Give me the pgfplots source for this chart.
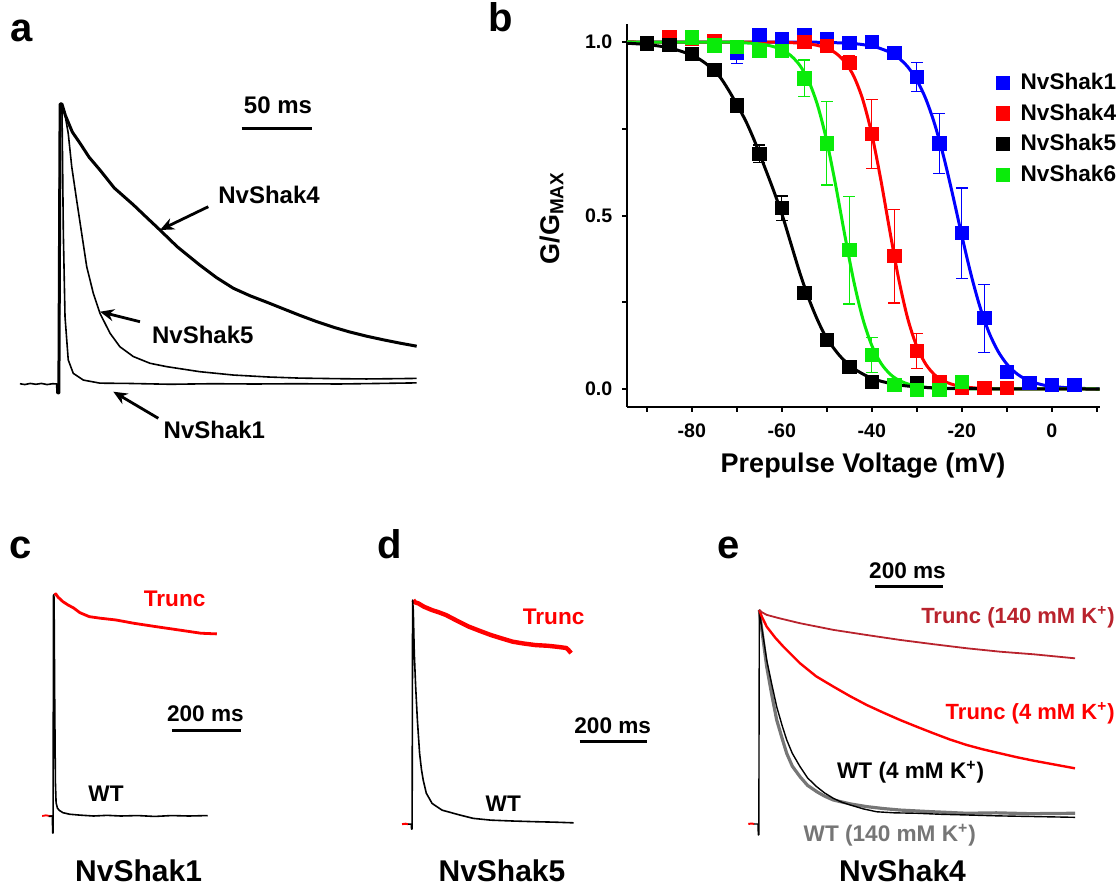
\documentclass[border=0pt]{standalone}
\usepackage{fontspec}
\setmainfont{Liberation Sans}
\usepackage{pgfplots}
\pgfplotsset{compat=1.18}
\usetikzlibrary{arrows.meta}
\definecolor{kblue}{RGB}{0,0,255}
\definecolor{kred}{RGB}{255,0,0}
\definecolor{kgreen}{RGB}{10,235,10}
\definecolor{kdark}{RGB}{185,35,45}
\definecolor{kgray}{RGB}{118,118,118}
\newcommand\fs[1]{\fontsize{#1}{#1}\selectfont\bfseries}
\tikzset{lab/.style={inner sep=0pt},
  arr/.style={line width=1.4pt,-{Stealth[length=7pt,width=6pt]}}}
\pgfplotsset{trace/.style={no markers, line join=round},
  lgd/.style={legend image code/.code={\draw[mark repeat=2,mark phase=2,##1] plot coordinates {(0pt,0pt)(3.3pt,0pt)(6.6pt,0pt)};}},
  pts/.style={only marks, mark=square*, mark size=3.3pt, color=#1, lgd,
    error bars/.cd, y dir=both, y explicit,
    error bar style={line width=0.6pt, color=#1},
    error mark options={rotate=90, mark size=3pt, line width=0.6pt, color=#1}},
  fit/.style={color=#1, line width=1.5pt, no markers, smooth, forget plot}}

\begin{document}
\begin{tikzpicture}[x=0.5pt,y=-0.5pt]
\useasboundingbox (0,0) rectangle (1118,887);

% ---------- a : current traces ----------
\begin{axis}[at={(9.55pt,-200.4pt)}, anchor=south west, x=0.7pt, y=140pt,
  xmin=-28, xmax=258, ymin=-0.06, ymax=1.02, hide axis, clip=false]
\addplot[trace, line width=0.8pt] coordinates {(-27.4,0.001)(-24,-0.002)(-20,0.002)(-16,-0.001)(-12,0.002)(-8,-0.002)(-4,0.001)(-0.7,0)(-0.4,-0.032)(0.4,-0.032)(1.3,1.0)(2.6,1.0)
  (3.6,0.538)(4.8,0.24)(7.1,0.086)(10.7,0.038)(17.9,0.014)(29.8,0.003)(50,0.002)(80,-0.001)(110,0.001)(140,0.0)(170,0.001)(200,0.0)(230,0.002)(256,0.004)};
\addplot[trace, line width=0.8pt] coordinates {(-0.7,0)(-0.4,-0.032)(0.4,-0.032)(1.3,1.0)(2.6,1.0)
  (4.5,0.97)(7.1,0.895)(9.6,0.776)(13.1,0.657)(16.7,0.538)(20.3,0.419)(25,0.324)(29.8,0.252)(37,0.181)(44,0.133)(53.6,0.098)(65.5,0.074)(77.4,0.062)(101,0.044)(125,0.032)(150,0.025)(172.6,0.021)(200,0.019)(220,0.018)(240,0.019)(256,0.02)};
\addplot[trace, line width=1.5pt] coordinates {(-0.7,0)(-0.4,-0.032)(0.4,-0.032)(1.3,1.0)(2.6,1.0)
  (5,0.96)(10,0.9)(15.5,0.86)(22,0.81)(29.8,0.764)(40,0.70)(53.6,0.64)(62,0.6)(72.6,0.55)(85,0.49)(101,0.425)(113,0.38)(125,0.342)(137,0.315)(149,0.292)(161,0.268)(172.6,0.245)(185,0.222)(196.4,0.203)(208,0.186)(220,0.171)(232,0.158)(244,0.146)(256,0.135)};
\end{axis}

% ---------- b : inactivation curves ----------
\begin{axis}[at={(313.5pt,-203.35pt)}, anchor=south west, x=2.25pt, y=173.5pt,
  xmin=-94.4, xmax=10.6, ymin=-0.051, ymax=1.052,
  axis lines=left, axis line style={line width=1.2pt,-},
  tick style={line width=1pt, black}, tick align=outside,
  major tick length=2.5pt, minor tick length=2.5pt,
  xtick={-80,-60,-40,-20,0}, minor xtick={-90,-70,-50,-30,-10,10},
  ytick={0,0.5,1}, minor ytick={0.25,0.75},
  /pgf/number format/assume math mode=true,
  tick label style={font=\fs{9.8}},
  xticklabel style={yshift=-2.6pt},
  yticklabel style={xshift=-1.3pt, /pgf/number format/.cd, fixed, fixed zerofill, precision=1},
  legend style={draw=none, fill=none, at={(axis cs:-12.4,0.9115)}, anchor=north west,
    font=\fs{11.3}, inner sep=0pt, row sep=5.6pt, nodes={inner sep=0pt},
    /tikz/every odd column/.append style={column sep=5.5pt}},
  legend cell align=left]
\addplot[pts=kblue] coordinates {(-70,0.97) +- (0,0.033) (-65,1.02) +- (0,0) (-60,1.008) +- (0,0) (-55,1.02) +- (0,0) (-50,1.008) +- (0,0) (-45,0.997) +- (0,0) (-40,1.0) +- (0,0)
  (-35,0.968) +- (0,0.012) (-30,0.90) +- (0,0.042) (-25,0.708) +- (0,0.087) (-20,0.449) +- (0,0.13) (-15,0.204) +- (0,0.098) (-10,0.05) +- (0,0.01) (-5,0.017) +- (0,0) (0,0.012) +- (0,0) (5,0.012) +- (0,0)};
\addlegendentry{NvShak1}
\addplot[pts=kred] coordinates {(-85,1.015) +- (0,0.005) (-80,1.01) +- (0,0) (-75,1.003) +- (0,0.005) (-55,1.0) +- (0,0) (-50,0.988) +- (0,0) (-45,0.94) +- (0,0.02)
  (-40,0.735) +- (0,0.10) (-35,0.383) +- (0,0.135) (-30,0.11) +- (0,0.05) (-25,0.021) +- (0,0) (-20,0.003) +- (0,0) (-15,0.003) +- (0,0) (-10,0.003) +- (0,0)};
\addlegendentry{NvShak4}
\addplot[pts=black] coordinates {(-90,0.996) +- (0,0) (-85,0.991) +- (0,0) (-80,0.965) +- (0,0) (-75,0.92) +- (0,0) (-70,0.817) +- (0,0.012) (-65,0.678) +- (0,0.025)
  (-60,0.521) +- (0,0.035) (-55,0.278) +- (0,0) (-50,0.142) +- (0,0) (-45,0.064) +- (0,0) (-40,0.021) +- (0,0) (-30,0.017) +- (0,0)};
\addlegendentry{NvShak5}
\addplot[pts=kgreen] coordinates {(-80,1.013) +- (0,0.005) (-75,0.99) +- (0,0.005) (-70,0.985) +- (0,0.01) (-65,0.975) +- (0,0) (-60,0.975) +- (0,0) (-55,0.895) +- (0,0.053)
  (-50,0.708) +- (0,0.12) (-45,0.40) +- (0,0.155) (-40,0.098) +- (0,0.05) (-35,0.012) +- (0,0) (-30,-0.003) +- (0,0) (-25,-0.003) +- (0,0) (-20,0.02) +- (0,0)};
\addlegendentry{NvShak6}
\addplot[fit=kblue] coordinates {(-94.4,1.0)(-70,0.9999)(-60,0.9999)(-55,0.9996)(-50,0.9988)(-45,0.9962)(-42,0.9925)(-39,0.985)(-36,0.9703)(-34,0.9536)(-32,0.9281)(-30,0.8902)(-28,0.8359)(-26,0.7619)(-24,0.6677)(-22,0.5579)(-20,0.4421)(-18,0.3323)(-16,0.2381)(-14,0.1641)(-12,0.1098)(-10,0.0719)(-8,0.0464)(-6,0.0296)(-3,0.015)(0,0.0075)(5,0.0024)(10.6,0.0007)};
\addplot[fit=kred] coordinates {(-94.4,1.0)(-65,0.9998)(-60,0.9991)(-55,0.9959)(-52,0.99)(-50,0.982)(-48,0.9678)(-46,0.943)(-44,0.9011)(-42,0.8337)(-40,0.734)(-38,0.603)(-36,0.4554)(-34,0.3152)(-32,0.2021)(-30,0.1224)(-28,0.0713)(-26,0.0405)(-24,0.0227)(-21,0.0094)(-17,0.0029)(-12,0.0006)(10.6,0.0)};
\addplot[fit=kgreen] coordinates {(-94.4,1.0)(-75,0.9997)(-70,0.9987)(-65,0.9945)(-62,0.9872)(-60,0.9775)(-58,0.9608)(-56,0.9327)(-54,0.8867)(-52,0.8154)(-50,0.7138)(-48,0.5849)(-46,0.4431)(-44,0.31)(-42,0.2024)(-40,0.1253)(-38,0.0749)(-36,0.0437)(-34,0.0252)(-31,0.0108)(-27,0.0035)(-22,0.0008)(10.6,0.0)};
\addplot[fit=black] coordinates {(-94.4,0.9964)(-90,0.9926)(-85,0.9832)(-80,0.9621)(-77,0.939)(-74,0.9032)(-72,0.865)(-70,0.82)(-68,0.772)(-66,0.713)(-64,0.646)(-62,0.578)(-60,0.505)(-58,0.42)(-56,0.335)(-54,0.26)(-52,0.197)(-50,0.146)(-47,0.0939)(-44,0.0592)(-41,0.0367)(-38,0.0226)(-34,0.0117)(-30,0.0061)(-25,0.0026)(-20,0.0012)(-10,0.0002)(10.6,0.0)};
\end{axis}

% ---------- c : NvShak1 WT / Trunc ----------
\begin{axis}[at={(20.4pt,-419.05pt)}, anchor=south west, x=0.17pt, y=110.5pt,
  xmin=-35, xmax=485, ymin=-0.1, ymax=1.05, hide axis, clip=false]
\addplot[trace, kred, line width=0.9pt] coordinates {(-31,0.0)(-20,0.003)(-8,0.0)(-1,0.0)};
\addplot[trace, kred, line width=1.4pt] coordinates {(5,1.0)(9,1.005)(16,0.99)(30,0.97)(45,0.955)(61.8,0.941)(80,0.92)(107.6,0.902)(140,0.895)(186,0.887)(239,0.872)(303,0.857)(370,0.842)(436,0.827)(482.6,0.824)};
\addplot[trace, black, line width=0.8pt] coordinates {(-12,-0.002)(-1,0.0)(0,-0.077)(1,-0.077)(2.5,1.0)(4,0.99)(6,0.5)(8,0.15)(10,0.06)(14,0.035)(20,0.025)(30,0.015)(50,0.008)(80,0.004)(120,0.0)(160,0.003)(200,0.0)(250,0.002)(300,-0.002)(350,0.002)(400,0.0)(456,0.002)};
\end{axis}

% ---------- d : NvShak5 WT / Trunc ----------
\begin{axis}[at={(200.7pt,-417.1pt)}, anchor=south west, x=0.17pt, y=111.5pt,
  xmin=-30, xmax=485, ymin=-0.05, ymax=1.05, hide axis, clip=false]
\addplot[trace, kred, line width=1pt] coordinates {(-28,-0.005)(-18,-0.003)(-10,-0.005)};
\addplot[trace, kred, line width=2.2pt] coordinates {(5,1.0)(10,0.99)(20,0.985)(36.5,0.97)(60,0.955)(80,0.945)(101,0.933)(130,0.91)(168,0.881)(200,0.862)(233.5,0.843)(265,0.828)(298,0.813)(330,0.805)(365,0.798)(400,0.795)(430.6,0.79)(455,0.785)(462,0.775)(469,0.762)};
\addplot[trace, black, line width=0.8pt] coordinates {(-10,-0.005)(-1,-0.005)(0,-0.027)(1.5,-0.027)(3,1.0)(5,0.95)(7.9,0.761)(12,0.61)(17,0.462)(23.5,0.313)(29,0.24)(34.1,0.193)(43.2,0.134)(60.3,0.088)(89.4,0.058)(141.8,0.036)(181.2,0.021)(233.5,0.013)(300,0.009)(365,0.006)(420,0.004)(476.5,0.001)};
\end{axis}

% ---------- e : NvShak4 in 4 and 140 mM K+ ----------
\begin{axis}[at={(373.2pt,-418.4pt)}, anchor=south west, x=0.17pt, y=107pt,
  xmin=-35, xmax=950, ymin=-0.06, ymax=1.05, hide axis, clip=false]
\addplot[trace, kred, line width=1pt] coordinates {(-29.4,0)(-20,0.002)(-12,0)};
\addplot[trace, kgray, line width=1.6pt] coordinates {(3,1.0)(10,0.91)(24.7,0.735)(40,0.6)(54.1,0.486)(70,0.4)(83.5,0.33)(100,0.27)(122.6,0.221)(145,0.18)(171.8,0.151)(195,0.13)(220.6,0.112)(270,0.094)(318.8,0.081)(368,0.072)(416.8,0.065)(500,0.058)(613,0.05)(700,0.052)(800,0.048)(931.5,0.05)};
\addplot[trace, black, line width=0.7pt] coordinates {(-12,0)(-1,0)(0,-0.051)(1.5,-0.051)(3,1.0)(10,0.92)(24.7,0.766)(40,0.65)(54.1,0.548)(70,0.46)(83.5,0.393)(100,0.33)(122.6,0.268)(145,0.215)(171.8,0.174)(195,0.145)(220.6,0.12)(245,0.102)(269.7,0.089)(310,0.07)(348.2,0.057)(400,0.052)(465.9,0.05)(540,0.045)(613,0.042)(700,0.038)(800,0.035)(931.5,0.031)};
\addplot[trace, kred, line width=1.2pt] coordinates {(3,1.0)(10,0.97)(24.7,0.922)(50,0.87)(73.5,0.829)(122.6,0.751)(170,0.69)(220.6,0.642)(270,0.597)(318.8,0.556)(368,0.52)(416.8,0.486)(465,0.455)(514.7,0.424)(563,0.395)(613,0.369)(660,0.349)(710.9,0.33)(760,0.312)(808.8,0.296)(870,0.278)(931.5,0.26)};
\addplot[trace, kdark, line width=0.9pt] coordinates {(3,1.0)(10,0.99)(24.7,0.977)(60,0.962)(122.6,0.938)(220.6,0.907)(318.8,0.883)(416.8,0.86)(514.7,0.84)(613,0.821)(710.9,0.805)(808.8,0.793)(931.5,0.774)};
\end{axis}

% ---------- labels ----------
\node[lab, anchor=base west, font=\fs{20}] at (10,41.7) {a};
\node[lab, anchor=base west, font=\fs{20}] at (488,32) {b};
\node[lab, anchor=base west, font=\fs{20}] at (9,558) {c};
\node[lab, anchor=base west, font=\fs{20}] at (377,558) {d};
\node[lab, anchor=base west, font=\fs{20}] at (717,558) {e};

\node[lab, anchor=base, font=\fs{12}] at (278,113.5) {50 ms};
\draw[line width=1.5pt] (241.7,128.3) -- (311.7,128.3);
\node[lab, anchor=base west, font=\fs{12}] at (218,204) {NvShak4};
\node[lab, anchor=base west, font=\fs{12}] at (151.7,343.3) {NvShak5};
\node[lab, anchor=base west, font=\fs{12}] at (163.3,438) {NvShak1};
\draw[arr] (208.3,206.7) -- (160,230);
\draw[arr] (140,321.7) -- (100,311.7);
\draw[arr] (158.3,418.3) -- (113.3,391.7);

\node[lab, anchor=base, font=\fs{13.5}] at (863,472) {Prepulse Voltage (mV)};
\node[lab, anchor=base, rotate=90, font=\fs{13.5}] at (559,218) {G/G\textsubscript{MAX}};

\node[lab, anchor=base, font=\fs{11.3}, text=kred] at (174.6,606.7) {Trunc};
\node[lab, anchor=base, font=\fs{11.3}] at (205.4,721.7) {200 ms};
\draw[line width=1.5pt] (171.9,730) -- (241,730);
\node[lab, anchor=base, font=\fs{11.3}] at (106,801.7) {WT};
\node[lab, anchor=base, font=\fs{15}] at (138.6,881.7) {NvShak1};

\node[lab, anchor=base, font=\fs{11.3}, text=kred] at (553.6,624) {Trunc};
\node[lab, anchor=base, font=\fs{11.3}] at (612.7,733.3) {200 ms};
\draw[line width=1.5pt] (579.5,741.7) -- (647.3,741.7);
\node[lab, anchor=base, font=\fs{11.3}] at (503.3,811.7) {WT};
\node[lab, anchor=base, font=\fs{15}] at (502,881.7) {NvShak5};

\node[lab, anchor=base, font=\fs{11.3}] at (907.5,578.3) {200 ms};
\draw[line width=1.5pt] (875,586.7) -- (943.3,586.7);
\node[lab, anchor=base east, font=\fs{11}, text=kdark] at (1115,623.3) {Trunc (140 mM K\textsuperscript{+})};
\node[lab, anchor=base east, font=\fs{11}, text=kred] at (1115,719.3) {Trunc (4 mM K\textsuperscript{+})};
\node[lab, anchor=base west, font=\fs{11.3}] at (836.7,778.3) {WT (4 mM K\textsuperscript{+})};
\node[lab, anchor=base west, font=\fs{11.3}, text=kgray] at (803.3,841.7) {WT (140 mM K\textsuperscript{+})};
\node[lab, anchor=base, font=\fs{15}] at (902.5,881.7) {NvShak4};
\end{tikzpicture}
\end{document}
